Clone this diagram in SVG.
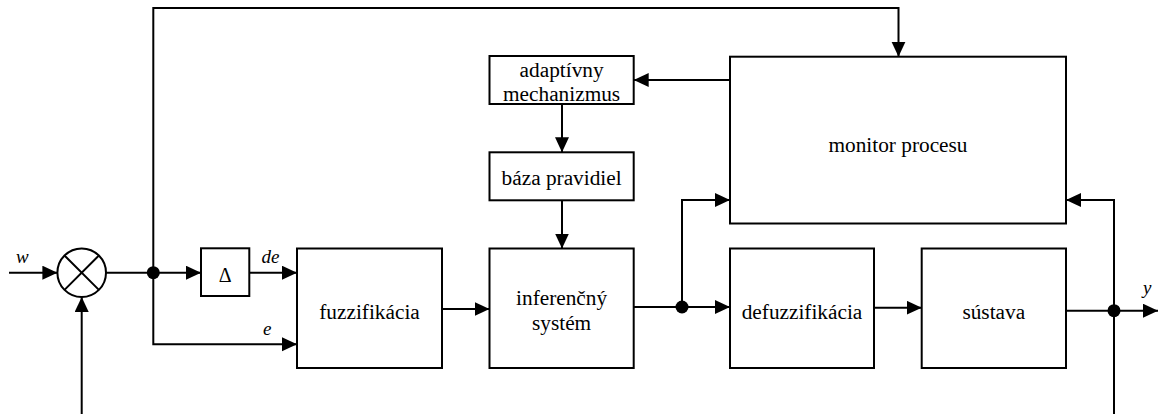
<svg xmlns="http://www.w3.org/2000/svg" width="1158" height="414" viewBox="0 0 1158 414">
<style>
.box{fill:#fff;stroke:#000;stroke-width:2}
.ln{fill:none;stroke:#000;stroke-width:2}
.ar{marker-end:url(#arr)}
text{fill:#000}
.t{font-size:21.3px;text-anchor:middle}
.it{font-size:19px;font-style:italic}
</style>
<defs>
<marker id="arr" markerUnits="userSpaceOnUse" markerWidth="16" markerHeight="15" refX="15" refY="7" orient="auto">
<path d="M0,0 L15,7 L0,14 z" fill="#000"/>
</marker>
</defs>
<rect width="1158" height="414" fill="#fff"/>
<g id="connectors">
<path class="ln ar" d="M9,272.7 H57.4"/>
<path class="ln ar" d="M81.7,414 V297"/>
<path class="ln ar" d="M106,272.7 H201"/>
<path class="ln ar" d="M153.3,272.7 V8 H898.5 V56.7"/>
<path class="ln ar" d="M249.3,272.7 H297"/>
<path class="ln ar" d="M153.3,272.7 V344.3 H297"/>
<path class="ln ar" d="M442,309 H489.5"/>
<path class="ln ar" d="M633.7,307 H730"/>
<path class="ln ar" d="M682,307 V200 H730"/>
<path class="ln ar" d="M874,307.7 H921.7"/>
<path class="ln ar" d="M1066,310.7 H1158"/>
<path class="ln ar" d="M1114,414 V200 H1066"/>
<path class="ln ar" d="M730,80 H633.7"/>
<path class="ln ar" d="M562,104 V152.3"/>
<path class="ln ar" d="M562,200.3 V248.5"/>
<circle cx="153.3" cy="272.7" r="6.5" fill="#000"/>
<circle cx="682" cy="307" r="6.5" fill="#000"/>
<circle cx="1114" cy="310.7" r="6.5" fill="#000"/>
<g font-family="'Liberation Serif', Tinos, 'Times New Roman', 'DejaVu Serif', serif">
<text class="it" x="16" y="263.3">w</text>
<text class="it" x="261.5" y="263.3">de</text>
<text class="it" x="263" y="335">e</text>
<text class="it" x="1143" y="294">y</text>
</g>
</g>
<g font-family="'Liberation Serif', Tinos, 'Times New Roman', 'DejaVu Serif', serif">
<g id="sum">
<circle cx="81.7" cy="272.7" r="24.3" class="box"/>
<path class="ln" d="M64.5,255.5 L98.9,289.9 M98.9,255.5 L64.5,289.9"/>
</g>
<g id="delta">
<rect class="box" x="201" y="248.3" width="48.3" height="47.7"/>
<text class="t" x="225.2" y="282" style="font-size:20px">Δ</text>
</g>
<g id="fuzzifikacia">
<rect class="box" x="297" y="248.5" width="145" height="119.5"/>
<text class="t" x="369.5" y="319.3">fuzzifikácia</text>
</g>
<g id="inferencny">
<rect class="box" x="489.5" y="248.5" width="144.2" height="119.5"/>
<text class="t" x="561.6" y="305">inferenčný</text>
<text class="t" x="561.6" y="330">systém</text>
</g>
<g id="adaptivny">
<rect class="box" x="489.5" y="56" width="144.2" height="48"/>
<text class="t" x="561.6" y="77.3">adaptívny</text>
<text class="t" x="561.6" y="101">mechanizmus</text>
</g>
<g id="baza">
<rect class="box" x="489.5" y="152.3" width="144.2" height="48"/>
<text class="t" x="561.6" y="184.5">báza pravidiel</text>
</g>
<g id="monitor">
<rect class="box" x="730" y="56.7" width="336" height="166.8"/>
<text class="t" x="898" y="151.7">monitor procesu</text>
</g>
<g id="defuzzifikacia">
<rect class="box" x="730" y="248.5" width="144" height="119.5"/>
<text class="t" x="802" y="319.3">defuzzifikácia</text>
</g>
<g id="sustava">
<rect class="box" x="921.7" y="248.5" width="144.3" height="119.5"/>
<text class="t" x="993.8" y="319.3">sústava</text>
</g>
</g>
</svg>
